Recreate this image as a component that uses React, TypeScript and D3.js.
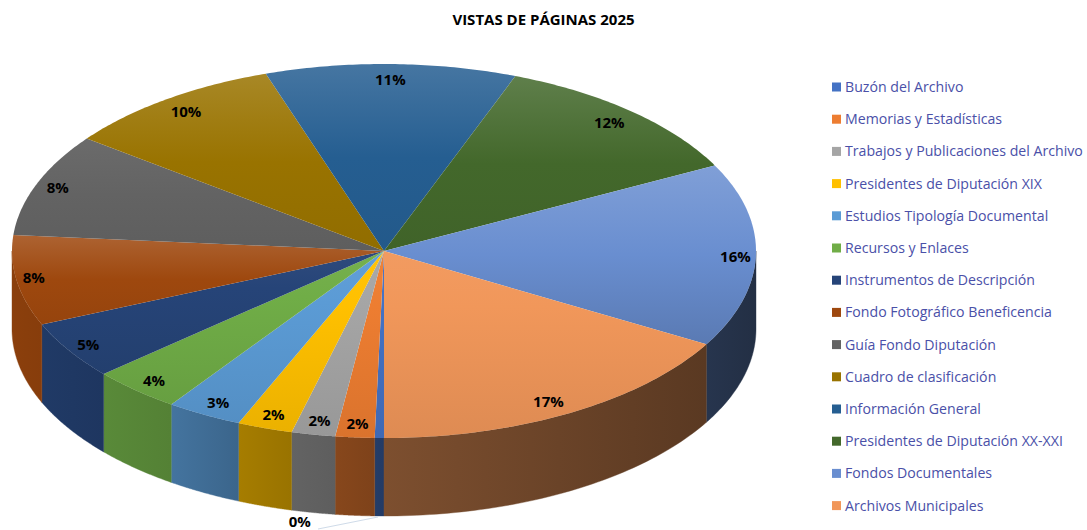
import React from "react";
import * as d3 from "d3";

const categories = ["Buzón del Archivo","Memorias y Estadísticas","Trabajos y Publicaciones del Archivo","Presidentes de Diputación XIX","Estudios Tipología Documental","Recursos y Enlaces","Instrumentos de Descripción","Fondo Fotográfico Beneficencia","Guía Fondo Diputación","Cuadro de clasificación","Información General","Presidentes de Diputación XX-XXI","Fondos Documentales","Archivos Municipales"];
const values = [0.4,1.7,1.9,2.4,3.3,3.9,5,7.8,8.9,9.6,10.9,11.7,15.9,16.7];
const labels = ["0%","2%","2%","2%","3%","4%","5%","8%","8%","10%","11%","12%","16%","17%"];
const colors = ["#4472C4","#ED7D31","#A5A5A5","#FFC000","#5B9BD5","#70AD47","#264478","#9E480E","#636363","#997300","#255E91","#43682B","#698ED0","#F1975A"];

const W = 1087, H = 530;
const cx = 384, cy = 251, rx = 372, ry = 187, depth = 78;
const fr = "'Open Sans', sans-serif";

const pie = d3.pie<number>().sort(null).startAngle(Math.PI).endAngle(3 * Math.PI);
const arcs = pie(values);
const px = (a: number, k = 1) => cx + rx * k * Math.sin(a);
const py = (a: number, k = 1) => cy - ry * k * Math.cos(a);
const line = d3.line();

// wall brightness falls from the left edge to the right edge
const wallShade = d3.scaleLinear().domain([12, 100, 170, 240, 290, 350, 384, 700, 755]).range([0.88, 0.8, 0.75, 0.65, 0.6, 0.56, 0.52, 0.38, 0.33]);
const shade = (c: string, k: number) => {
  const r = d3.rgb(c);
  return d3.rgb(r.r * k, r.g * k, r.b * k).formatHex();
};

const rimPts = (a0: number, a1: number, dy = 0) =>
  d3.range(0, 61).map((i) => {
    const a = a0 + ((a1 - a0) * i) / 60;
    return [px(a), py(a) + dy] as [number, number];
  });

// label nudges relative to the radial anchor
const labelFrac = 0.91;
const nudgeX = [-80, 0, 0, -2, -2, -4, -9, -16, -10, 0, 0, 0, 13, -5];
const nudgeY = [0, 3, 3, 3, 3, 3, 3, 0, -2, -1, -1, -1, 2, 3];

const legendX = 832, legendY0 = 87, legendStep = 32.2;

const isLower = (i: number) => i < 7 || i === 13;
const topLight = (i: number) => (i === 8 ? 0.05 : isLower(i) ? 0.04 : 0.15);
const bottomDark = (i: number) => (i === 12 ? 0.14 : isLower(i) ? 0.08 : 0.05);

export default function App() {
  const walls: any[] = [];
  arcs.forEach((d, i) => {
    const spans = [[Math.PI / 2, 1.5 * Math.PI], [2.5 * Math.PI, 3.5 * Math.PI]];
    spans.forEach(([lo, hi]) => {
      const a0 = Math.max(d.startAngle, lo);
      const a1 = Math.min(d.endAngle, hi);
      if (a1 > a0) walls.push({ i, a0, a1 });
    });
  });
  return (
    <svg width={W} height={H} viewBox={`0 0 ${W} ${H}`} style={{ position: "absolute", left: 0, top: 0, background: "#fff" }}>
      <defs>
        {arcs.map((d, i) => (
          <linearGradient key={i} id={`top${i}`} x1="0" y1="0" x2="0" y2="1">
            <stop offset="0" stopColor={d3.interpolateRgb(colors[i], "#fff")(topLight(i))} />
            <stop offset={isLower(i) ? 0.3 : 0.5} stopColor={colors[i]} />
            <stop offset="1" stopColor={d3.interpolateRgb(colors[i], "#000")(bottomDark(i))} />
          </linearGradient>
        ))}
        {walls.map((w, k) => {
          const x0 = px(w.a0), x1 = px(w.a1);
          return (
            <linearGradient key={k} id={`wall${k}`} gradientUnits="userSpaceOnUse" x1={x0} y1="0" x2={x1 === x0 ? x0 + 1 : x1} y2="0">
              <stop offset="0" stopColor={shade(colors[w.i], wallShade(x0))} />
              <stop offset="1" stopColor={shade(colors[w.i], wallShade(x1))} />
            </linearGradient>
          );
        })}
      </defs>

      <text x={543.5} y={25} textAnchor="middle" fontFamily={fr} fontWeight={700} fontSize={15} fill="#000">VISTAS DE PÁGINAS 2025</text>

      {walls.map((w, k) => {
        const topPts = rimPts(w.a0, w.a1);
        const botPts = rimPts(w.a1, w.a0, depth);
        return <path key={k} d={line([...topPts, ...botPts]) + "Z"} fill={`url(#wall${k})`} stroke={`url(#wall${k})`} strokeWidth={0.4} />;
      })}

      {arcs.map((d, i) => (
        <path key={i} d={line([[cx, cy], ...rimPts(d.startAngle, d.endAngle)]) + "Z"} fill={`url(#top${i})`} />
      ))}

      <line x1={px(arcs[0].startAngle) - 6} y1={py(arcs[0].startAngle) + depth + 1} x2={318} y2={529} stroke="#cfdbe9" strokeWidth={1} />

      {arcs.map((d, i) => {
        const m = (d.startAngle + d.endAngle) / 2;
        const x = px(m, labelFrac) + nudgeX[i];
        const y = i === 0 ? 522 : py(m, labelFrac) + nudgeY[i];
        return (
          <text key={i} x={x} y={y} dy="0.35em" textAnchor="middle" fontFamily={fr} fontWeight={700} fontSize={15} fill="#000">{labels[i]}</text>
        );
      })}

      {categories.map((c, i) => (
        <g key={c}>
          <rect x={legendX} y={legendY0 + i * legendStep - 4.5} width={9} height={9} fill={colors[i]} />
          <text x={845} y={legendY0 + i * legendStep} dy="0.35em" fontFamily={fr} fontSize={14.15} fill="#4A50A8">{c}</text>
        </g>
      ))}
    </svg>
  );
}
